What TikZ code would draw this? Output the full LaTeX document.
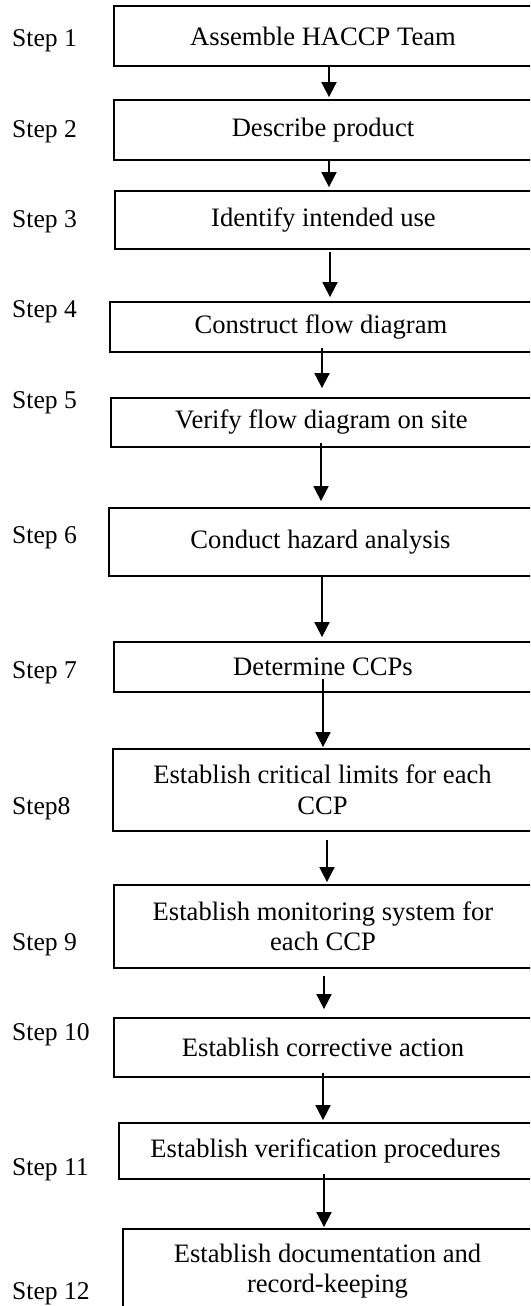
\documentclass[tikz,border=0pt]{standalone}
\usepackage{fontspec}
\setmainfont{Liberation Serif}
\usetikzlibrary{arrows.meta}
\tikzset{
  stepbox/.style={draw, line width=1.8pt, align=center, inner sep=0pt, font=\fontsize{26.6}{30.5}\selectfont},
  steplabel/.style={anchor=base west, inner sep=0pt, font=\fontsize{25.6}{30}\selectfont},
  flow/.style={line width=1.8pt, -{Triangle[width=15pt,length=15pt]}}
}
\begin{document}
\begin{tikzpicture}[x=1pt,y=-1pt]
                \useasboundingbox (0,0) rectangle (530,1306);
                \clip (0,0) rectangle (530,1306);
                % boxes, cut off at the right edge
                \node[stepbox, minimum width=418pt, minimum height=60pt] (b1)  at (323,36)      {Assemble HACCP Team};
                \node[stepbox, minimum width=418pt, minimum height=60pt] (b2)  at (323,130)     {Describe product};
                \node[stepbox, minimum width=417pt, minimum height=58pt] (b3)  at (323.5,220)   {Identify intended use};
                \node[stepbox, minimum width=422pt, minimum height=50pt] (b4)  at (321,327)     {Construct flow diagram};
                \node[stepbox, minimum width=421pt, minimum height=49pt] (b5)  at (321.5,422.5) {Verify flow diagram on site};
                \node[stepbox, minimum width=423pt, minimum height=68pt] (b6)  at (320.5,542)   {Conduct hazard analysis};
                \node[stepbox, minimum width=418pt, minimum height=50pt] (b7)  at (323,667)     {Determine CCPs};
                \node[stepbox, minimum width=419pt, minimum height=82pt] (b8)  at (322.5,790)   {Establish critical limits for each\\CCP};
                \node[stepbox, minimum width=418pt, minimum height=83pt] (b9)  at (323,926.5)   {Establish monitoring system for\\each CCP};
                \node[stepbox, minimum width=418pt, minimum height=59pt] (b10) at (323,1047.5)  {Establish corrective action};
                \node[stepbox, minimum width=413pt, minimum height=56pt] (b11) at (325.5,1151)  {Establish verification procedures};
                \node[stepbox, minimum width=409pt, minimum height=84pt] (b12) at (327.5,1271)  {Establish documentation and\\record-keeping};
                %
                \foreach \n/\t/\y in {1/Step 1/47, 2/Step 2/137, 3/Step 3/227, 4/Step 4/317,
                                      5/Step 5/408, 6/Step 6/543, 7/Step 7/678, 8/Step8/814,
                                      9/Step 9/950, 10/Step 10/1040, 11/Step 11/1175, 12/Step 12/1299}
                    \node[steplabel] (s\n) at (12,\y) {\t};
                % arrows
                \foreach \a/\b/\dx/\ys/\ye in {b1/b2/6/0/2, b2/b3/6/0/3, b3/b4/6.5/-2/4,
                                               b4/b5/1/5/9, b5/b6/-0.5/5/6, b6/b7/1.5/0/4,
                                               b7/b8/0/14/1, b8/b9/4.5/-8/2, b9/b10/1/-7/8,
                                               b10/b11/0/5/2, b11/b12/-1.5/6/1}
                    \draw[flow, shorten >=\ye pt] ([xshift=\dx pt,yshift=\ys pt]\a.south) coordinate (s)
                                                  -- (s |- \b.north);
\end{tikzpicture}
\end{document}
